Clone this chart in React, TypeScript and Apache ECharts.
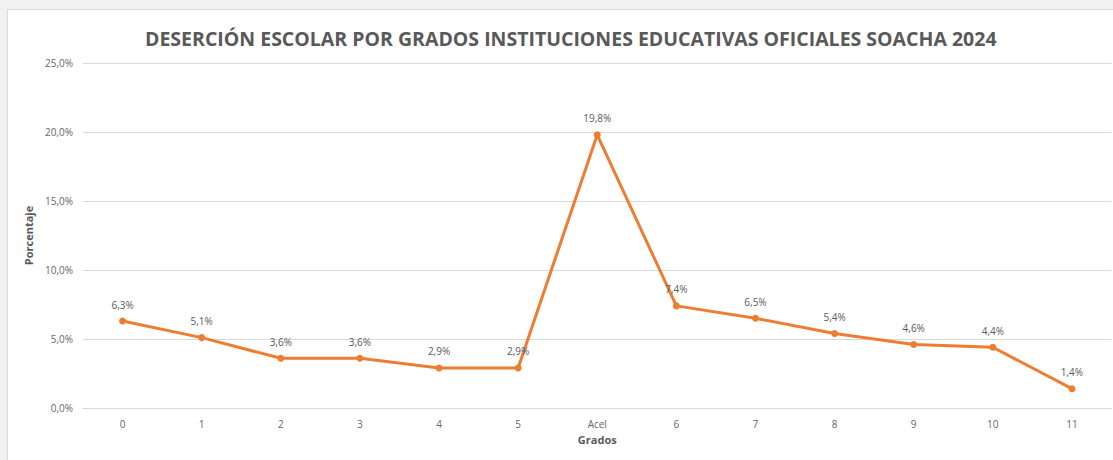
import React, { useEffect, useRef } from "react";
import * as echarts from "echarts";

const categories = ["0", "1", "2", "3", "4", "5", "Acel", "6", "7", "8", "9", "10", "11"];
const values = [6.3, 5.1, 3.6, 3.6, 2.9, 2.9, 19.8, 7.4, 6.5, 5.4, 4.6, 4.4, 1.4];
const yTicks = [0, 5, 10, 15, 20, 25];

const fmt = (v: number) => v.toFixed(1).replace(".", ",") + "%";

export default function App() {
  const ref = useRef<HTMLDivElement>(null);
  useEffect(() => {
    const chart = echarts.init(ref.current!, null, { renderer: "svg" });
    const font = "'Open Sans', 'Liberation Sans', sans-serif";
    chart.setOption({
      animation: false,
      backgroundColor: "#f2f2f2",
      textStyle: { fontFamily: font },
      graphic: [
        {
          type: "rect",
          shape: { x: 7.5, y: 9.5, width: 1110, height: 460 },
          style: { fill: "#ffffff", stroke: "#d9d9d9", lineWidth: 1 },
          z: -10,
        },
      ],
      title: {
        text: "DESERCIÓN ESCOLAR POR GRADOS INSTITUCIONES EDUCATIVAS OFICIALES SOACHA 2024",
        left: 140,
        top: 23,
        textStyle: { fontFamily: font, fontSize: 19.5, fontWeight: "bold", color: "#595959" },
      },
      grid: { left: 83, right: 1.5, top: 63, bottom: 52 },
      xAxis: {
        type: "category",
        data: categories,
        boundaryGap: true,
        name: "Grados",
        nameLocation: "middle",
        nameGap: 25,
        nameTextStyle: { fontFamily: font, fontSize: 11, fontWeight: "bold", color: "#595959" },
        axisLine: { show: true, lineStyle: { color: "#d9d9d9" } },
        axisTick: { show: false },
        axisLabel: { fontFamily: font, fontSize: 10, color: "#666666", margin: 11 },
      },
      yAxis: {
        type: "value",
        min: yTicks[0],
        max: yTicks[yTicks.length - 1],
        interval: 5,
        name: "Porcentaje",
        nameLocation: "middle",
        nameGap: 49,
        nameTextStyle: { fontFamily: font, fontSize: 11, fontWeight: "bold", color: "#595959" },
        axisLine: { show: false },
        axisTick: { show: false },
        axisLabel: { fontFamily: font, fontSize: 10, color: "#666666", margin: 10, formatter: (v: number) => fmt(v) },
        splitLine: { lineStyle: { color: "#d9d9d9", width: 1 } },
      },
      series: [
        {
          type: "line",
          data: values,
          symbol: "circle",
          symbolSize: 7,
          lineStyle: { color: "#ED7D31", width: 3 },
          itemStyle: { color: "#ED7D31" },
          label: {
            show: true,
            position: "top",
            distance: 8,
            fontFamily: font,
            fontSize: 10,
            color: "#595959",
            formatter: (p: any) => fmt(p.value),
          },
        },
      ],
    });
    return () => chart.dispose();
  }, []);
  return (
    <div
      ref={ref}
      style={{ position: "fixed", left: 0, top: 0, width: 1113, height: 460 }}
    />
  );
}
